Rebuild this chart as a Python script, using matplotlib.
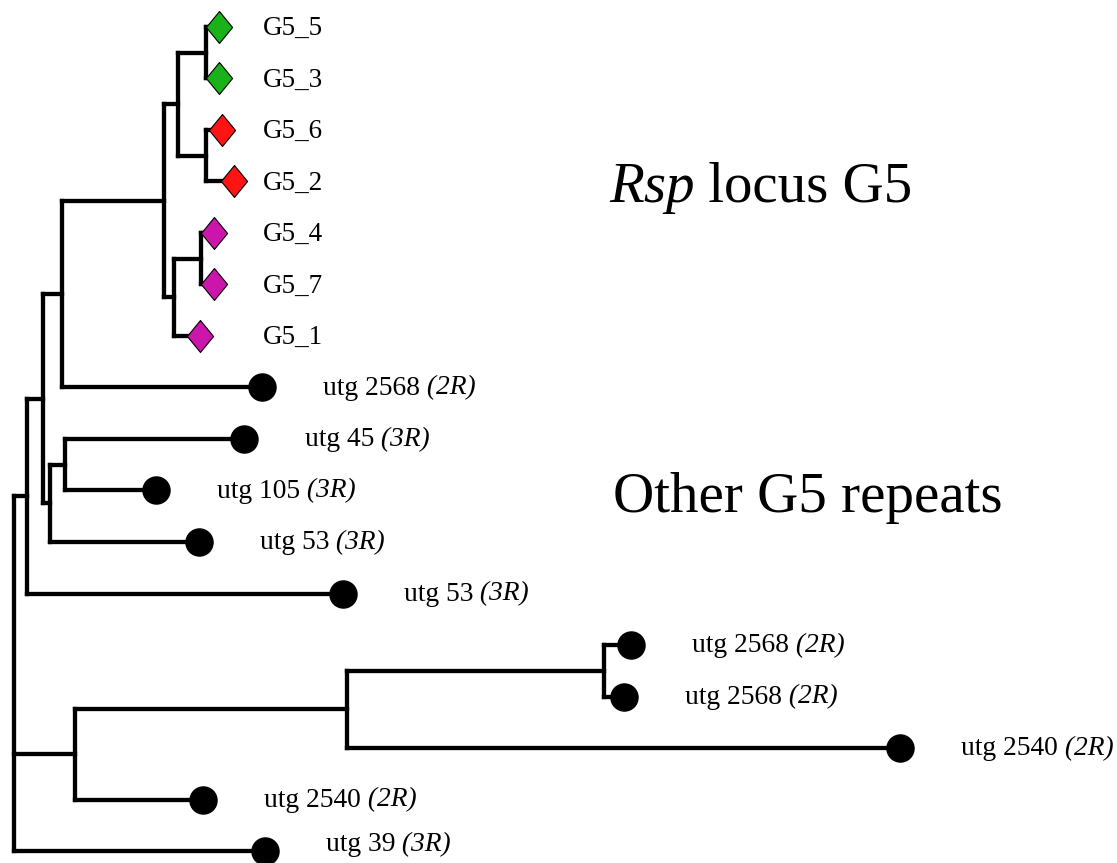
import matplotlib.pyplot as plt

plt.rcParams["font.family"] = ["Liberation Serif", "DejaVu Serif"]

# leaves, listed top to bottom
leaf_names = ["G5_5", "G5_3", "G5_6", "G5_2", "G5_4", "G5_7", "G5_1",
              "utg 2568", "utg 45", "utg 105", "utg 53", "utg 53",
              "utg 2568", "utg 2568", "utg 2540", "utg 2540", "utg 39"]
leaf_arms = ["", "", "", "", "", "", "",
             "2R", "3R", "3R", "3R", "3R",
             "2R", "2R", "2R", "2R", "3R"]
leaf_depth = [219, 219, 222, 234, 214, 214, 200,
              262, 244, 156, 199, 343,
              631, 624, 900, 203, 265]
leaf_group = ["green", "green", "red", "red", "magenta", "magenta", "magenta",
              "other", "other", "other", "other", "other",
              "other", "other", "other", "other", "other"]

# internal nodes: depth and children (int = leaf index, str = node)
node_depth = {"root": 14, "A": 27, "C": 43, "D": 62, "F": 164, "G": 178,
              "I": 206, "J": 206, "H": 174, "K": 201, "E": 50, "L": 65,
              "B": 75, "M": 347, "N": 604}
node_children = {"root": ["A", "B", 16],
                 "A": ["C", 11],
                 "C": ["D", "E"],
                 "D": ["F", 7],
                 "F": ["G", "H"],
                 "G": ["I", "J"],
                 "I": [0, 1],
                 "J": [2, 3],
                 "H": ["K", 6],
                 "K": [4, 5],
                 "E": ["L", 10],
                 "L": [8, 9],
                 "B": ["M", 15],
                 "M": ["N", 14],
                 "N": [12, 13]}

group_colors = {"green": "#19b319", "red": "#ff1414", "magenta": "#cc16ab"}

W, H = 1117, 863
row0, row_step = 27, 51.5   # pixel y of first row, spacing

fig = plt.figure(figsize=(W / 100, H / 100), dpi=100)
ax = fig.add_axes([0, 0, 1, 1])
ax.set_xlim(0, W)
ax.set_ylim((H - row0) / row_step, -row0 / row_step)
ax.axis("off")

lw = 3.1


def draw(node):
    x = node_depth[node]
    ys = []
    for ch in node_children[node]:
        if isinstance(ch, int):
            cx, cy = leaf_depth[ch], ch
        else:
            cx, cy = node_depth[ch], draw(ch)
        ax.plot([x, cx], [cy, cy], color="black", lw=lw,
                solid_capstyle="projecting", zorder=1)
        ys.append(cy)
    ax.plot([x, x], [min(ys), max(ys)], color="black", lw=lw,
            solid_capstyle="projecting", zorder=1)
    return (min(ys) + max(ys)) / 2


draw("root")

diamond = [(0, 1), (0.82, 0), (0, -1), (-0.82, 0), (0, 1)]
g5_label_x = 263


def baseline_row(i):
    # text baseline a little below the tip, kept inside the figure
    px = min(row0 + row_step * i + 7, H - 12)
    return (px - row0) / row_step


for i, name in enumerate(leaf_names):
    if leaf_group[i] == "other":
        ax.plot(leaf_depth[i], i, marker="o", ms=19.5, color="black", zorder=3)
        t = ax.annotate(name, xy=(leaf_depth[i], baseline_row(i)),
                        xytext=(43.9, 0), textcoords="offset points",
                        fontsize=19.8, ha="left", va="baseline")
        ax.annotate(" (" + leaf_arms[i] + ")", xy=(1, 0), xycoords=t,
                    fontsize=19.8, style="italic", ha="left", va="bottom")
    else:
        ax.plot(leaf_depth[i], i, marker=diamond, ms=23,
                markerfacecolor=group_colors[leaf_group[i]],
                markeredgecolor="black", markeredgewidth=0.8, zorder=3)
        ax.annotate(name, xy=(g5_label_x, baseline_row(i) + 1 / row_step),
                    fontsize=19.5, ha="left", va="baseline")

t = ax.text(609 / W, 1 - 202 / H, "Rsp", transform=ax.transAxes,
            fontsize=41, style="italic", ha="left", va="baseline")
ax.annotate(" locus G5", xy=(1, 0), xycoords=t, fontsize=41,
            ha="left", va="bottom")
ax.text(613 / W, 1 - 512 / H, "Other G5 repeats", transform=ax.transAxes,
        fontsize=41, ha="left", va="baseline")

fig.savefig("out.png", dpi=100)
plt.close(fig)
